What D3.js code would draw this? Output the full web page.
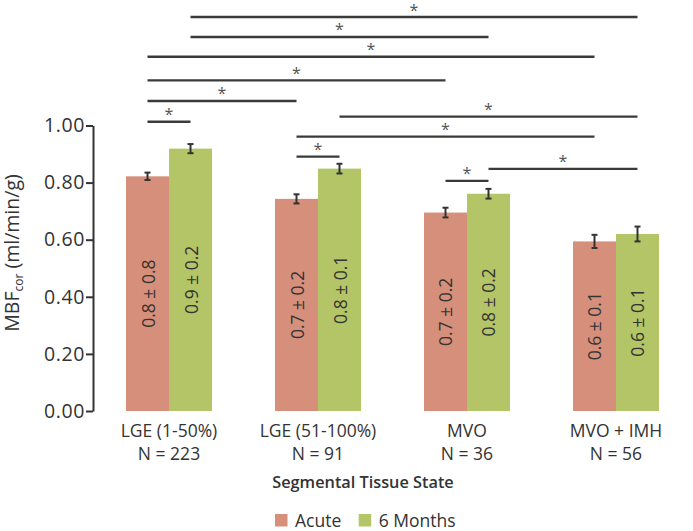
<!DOCTYPE html>
<html>
<head>
<meta charset="utf-8">
<script src="https://cdn.jsdelivr.net/npm/d3@7"></script>
<style>
  html, body { margin: 0; padding: 0; background: #fff; }
  svg { display: block; font-family: "Open Sans", "Noto Sans", sans-serif; }
</style>
</head>
<body>
<svg id="chart" width="693" height="531"></svg>
<script>
// ---- data ----
const categories = ["LGE (1-50%)", "LGE (51-100%)", "MVO", "MVO + IMH"];
const nLabels = ["N = 223", "N = 91", "N = 36", "N = 56"];
const seriesNames = ["Acute", "6 Months"];
const acuteValues = [0.822, 0.743, 0.695, 0.594];
const monthValues = [0.919, 0.849, 0.761, 0.620];
const acuteErrors = [0.013, 0.016, 0.017, 0.023];
const monthErrors = [0.016, 0.017, 0.017, 0.026];
const acuteLabels = ["0.8 ± 0.8", "0.7 ± 0.2", "0.7 ± 0.2", "0.6 ± 0.1"];
const monthLabels = ["0.9 ± 0.2", "0.8 ± 0.1", "0.8 ± 0.2", "0.6 ± 0.1"];
const yTicks = [0, 0.2, 0.4, 0.6, 0.8, 1.0];
// significance comparisons: [group A, series A, group B, series B, bracket level (y units)]
const comparisons = [
  [0, 1, 3, 1, 1.380],
  [0, 1, 2, 1, 1.310],
  [0, 0, 3, 0, 1.241],
  [0, 0, 2, 0, 1.158],
  [0, 0, 1, 0, 1.086],
  [0, 0, 0, 1, 1.013],
  [1, 1, 3, 1, 1.031],
  [1, 0, 3, 0, 0.961],
  [1, 0, 1, 1, 0.891],
  [2, 1, 3, 1, 0.848],
  [2, 0, 2, 1, 0.806]
];
const colors = ["#d58f7b", "#b3c566"];

// ---- build ----
const svg = d3.select("#chart");
const textColor = "#333";

const x0 = d3.scaleBand().domain(categories).range([93, 692])
  .paddingInner(0.4228).paddingOuter(0.2215);
const x1 = d3.scaleBand().domain(seriesNames).range([0, x0.bandwidth()]);
const y = d3.scaleLinear().domain([0, 1]).range([411, 125.5]);

const rows = [];
categories.forEach((c, i) => {
  rows.push({cat: c, s: seriesNames[0], v: acuteValues[i], e: acuteErrors[i], lab: acuteLabels[i], si: 0});
  rows.push({cat: c, s: seriesNames[1], v: monthValues[i], e: monthErrors[i], lab: monthLabels[i], si: 1});
});
const cx = (cat, s) => x0(cat) + x1(s) + x1.bandwidth() / 2;

// bars
svg.append("g").selectAll("rect").data(rows).join("rect")
  .attr("x", d => x0(d.cat) + x1(d.s))
  .attr("y", d => y(d.v))
  .attr("width", x1.bandwidth())
  .attr("height", d => y(0) - y(d.v))
  .attr("fill", d => colors[d.si]);

// error bars
const eb = svg.append("g").attr("stroke", "#333").attr("stroke-width", 2);
rows.forEach(d => {
  const xc = cx(d.cat, d.s);
  eb.append("line").attr("x1", xc).attr("x2", xc).attr("y1", y(d.v + d.e)).attr("y2", y(d.v - d.e));
  eb.append("line").attr("x1", xc - 3).attr("x2", xc + 3).attr("y1", y(d.v + d.e)).attr("y2", y(d.v + d.e));
  eb.append("line").attr("x1", xc - 3).attr("x2", xc + 3).attr("y1", y(d.v - d.e)).attr("y2", y(d.v - d.e));
});

// value labels inside bars
svg.append("g").selectAll("text").data(rows).join("text")
  .attr("transform", d => `translate(${cx(d.cat, d.s)},${(y(d.v) + y(0)) / 2}) rotate(-90)`)
  .attr("text-anchor", "middle")
  .attr("dominant-baseline", "central")
  .attr("font-size", 17.5)
  .attr("fill", textColor)
  .text(d => d.lab);

// significance brackets
const sg = svg.append("g");
comparisons.forEach(([ga, sa, gb, sb, lvl]) => {
  const xa = cx(categories[ga], seriesNames[sa]);
  const xb = cx(categories[gb], seriesNames[sb]);
  const yy = y(lvl);
  sg.append("line").attr("x1", xa).attr("x2", xb).attr("y1", yy).attr("y2", yy)
    .attr("stroke", "#3a3a3a").attr("stroke-width", 2.4);
  sg.append("text").attr("x", (xa + xb) / 2).attr("y", yy - 1.5)
    .attr("text-anchor", "middle").attr("font-size", 16).attr("fill", "#555").text("*");
});

// y axis
const yAxis = svg.append("g").attr("transform", "translate(93,0)")
  .call(d3.axisLeft(y).tickValues(yTicks).tickFormat(d3.format(".2f")).tickSize(7).tickSizeOuter(0));
yAxis.select(".domain").attr("stroke", "#333").attr("stroke-width", 2);
yAxis.selectAll(".tick line").attr("stroke", "#333").attr("stroke-width", 2);
yAxis.selectAll(".tick text").attr("font-size", 19.5).attr("fill", textColor)
  .attr("font-family", "'Open Sans', sans-serif").attr("letter-spacing", 0.6).attr("x", -8);

// y axis title
const yt = svg.append("text")
  .attr("transform", "translate(19,253) rotate(-90)")
  .attr("text-anchor", "middle")
  .attr("font-size", 19.5).attr("fill", textColor);
yt.append("tspan").text("MBF");
yt.append("tspan").attr("font-size", 12).attr("dy", 4).text("cor");
yt.append("tspan").attr("dy", -4).text(" (ml/min/g)");

// category labels
const cl = svg.append("g").attr("font-size", 17.5).attr("fill", textColor).attr("text-anchor", "middle");
categories.forEach((c, i) => {
  const xc = x0(c) + x0.bandwidth() / 2;
  cl.append("text").attr("x", xc).attr("y", 437).text(c);
  cl.append("text").attr("x", xc).attr("y", 460).text(nLabels[i]);
});

// x axis title
svg.append("text").attr("x", 363).attr("y", 488).attr("text-anchor", "middle")
  .attr("font-size", 16.3).attr("font-weight", 600).attr("fill", textColor)
  .text("Segmental Tissue State");

// legend
const legendX = [275, 358.7];
const lg = svg.append("g");
seriesNames.forEach((s, i) => {
  lg.append("rect").attr("x", legendX[i]).attr("y", 514).attr("width", 12.5).attr("height", 12.5).attr("fill", colors[i]);
  lg.append("text").attr("x", legendX[i] + 20).attr("y", 526.5).attr("font-size", 17.5).attr("fill", textColor).text(s);
});
</script>
</body>
</html>
